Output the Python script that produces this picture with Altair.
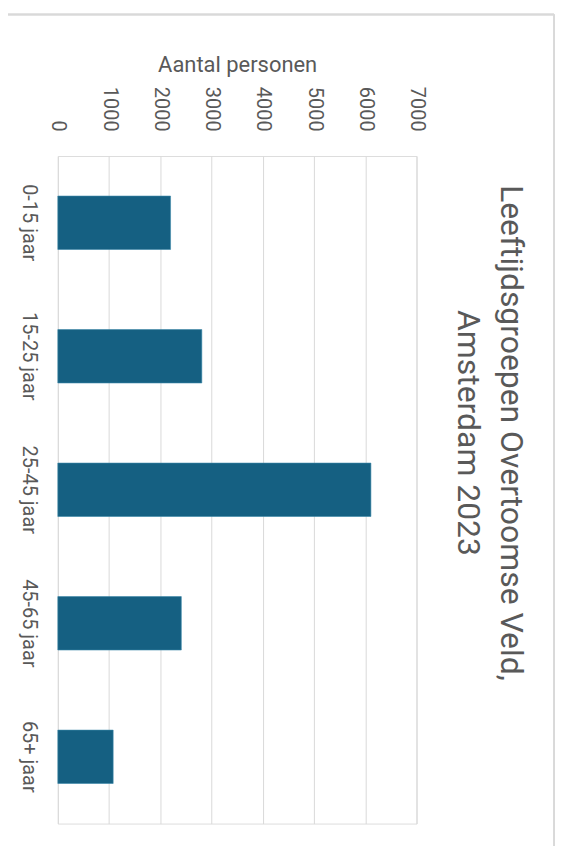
import altair as alt
import pandas as pd

categories = ["0-15 jaar", "15-25 jaar", "25-45 jaar", "45-65 jaar", "65+ jaar"]
values = [2200, 2810, 6110, 2410, 1080]
x_ticks = [0, 1000, 2000, 3000, 4000, 5000, 6000, 7000]
title_lines = ["Leeftijdsgroepen Overtoomse Veld,", "Amsterdam 2023"]
axis_title = "Aantal personen"

df = pd.DataFrame({"groep": categories, "aantal": values})

FONT = "Roboto"
TEXT = "#595959"
GRID = "#d9d9d9"
BAR = "#156082"

bars = alt.Chart(df).mark_bar(color=BAR, stroke="#3a86a8", strokeWidth=0.6).encode(
    x=alt.X(
        "aantal:Q",
        scale=alt.Scale(domain=[0, 7000], nice=False),
        axis=alt.Axis(
            orient="top",
            values=x_ticks,
            format="d",
            title=axis_title,
            titleFont=FONT,
            titleFontSize=22,
            titleFontWeight="normal",
            titleColor=TEXT,
            titleAngle=0,
            titleBaseline="alphabetic",
            titleX=180,
            titleY=-85,
            labelFont=FONT,
            labelFontSize=20,
            labelColor=TEXT,
            labelAngle=90,
            labelAlign="right",
            labelBaseline="middle",
            labelPadding=25,
            ticks=False,
            tickSize=0,
            domain=False,
            grid=True,
            gridColor=GRID,
            gridWidth=1,
        ),
    ),
    y=alt.Y(
        "groep:N",
        sort=categories,
        scale=alt.Scale(paddingInner=0.6, paddingOuter=0.3),
        axis=alt.Axis(
            title=None,
            labelFont=FONT,
            labelFontSize=20,
            labelColor=TEXT,
            labelAngle=90,
            labelAlign="center",
            labelBaseline="top",
            labelPadding=19,
            ticks=False,
            tickSize=0,
            domain=False,
            grid=False,
        ),
    ),
)

frame_top = alt.Chart(df).mark_rule(color=GRID, strokeWidth=1.5).encode(
    x=alt.value(-50), x2=alt.value(498), y=alt.value(-142)
)
frame_right = alt.Chart(df).mark_rule(color=GRID, strokeWidth=1.5).encode(
    x=alt.value(498), y=alt.value(-142), y2=alt.value(700)
)

chart = (
    alt.layer(bars, frame_top, frame_right)
    .properties(
        width=360,
        height=670,
        padding={"left": 50, "top": 147, "right": 140, "bottom": 30},
        autosize=alt.AutoSizeParams(type="none"),
        title=alt.Title(
            text=title_lines,
            orient="right",
            anchor="middle",
            angle=90,
            font=FONT,
            fontSize=32,
            fontWeight="normal",
            color=TEXT,
            lineHeight=43,
            offset=-104,
            dx=-57,
        ),
    )
    .configure_view(stroke=None)
    .configure(background="white")
)

chart.save("out.html", embed_options={"renderer": "svg", "actions": False})
